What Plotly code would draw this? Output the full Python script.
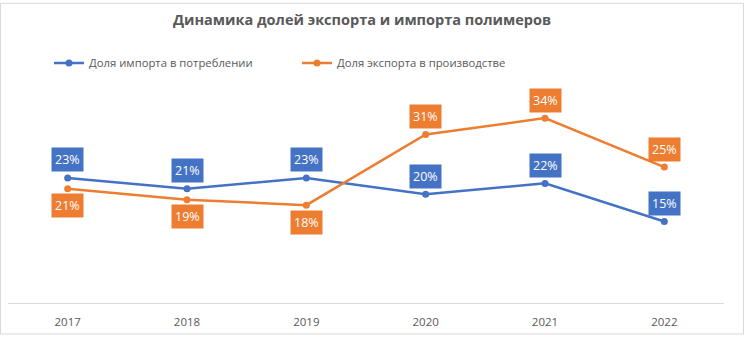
import plotly.graph_objects as go

years = ["2017", "2018", "2019", "2020", "2021", "2022"]
import_share = [23, 21, 23, 20, 22, 15]
export_share = [21, 19, 18, 31, 34, 25]
export_label_pos = ["below", "below", "below", "above", "above", "above"]

BLUE = "#4472C4"
ORANGE = "#ED7D31"
GREY = "#595959"
FONT = "Open Sans"

W, H = 744, 337
ML, MR, MT, MB = 8, 20, 84, 32

fig = go.Figure()
fig.add_trace(go.Scatter(x=years, y=import_share, mode="lines+markers",
                         name="Доля импорта в потреблении",
                         line=dict(color=BLUE, width=2.5),
                         marker=dict(size=7, color=BLUE)))
fig.add_trace(go.Scatter(x=years, y=export_share, mode="lines+markers",
                         name="Доля экспорта в производстве",
                         line=dict(color=ORANGE, width=2.5),
                         marker=dict(size=7, color=ORANGE)))

ann = []
for i, v in enumerate(import_share):
    ann.append(dict(x=i, y=v, xref="x", yref="y", text=f"{v}%", showarrow=False,
                    yshift=18, bgcolor=BLUE, borderpad=3,
                    font=dict(color="white", size=12.5, family=FONT)))
for i, (v, p) in enumerate(zip(export_share, export_label_pos)):
    ann.append(dict(x=i, y=v, xref="x", yref="y", text=f"{v}%", showarrow=False,
                    yshift=18 if p == "above" else -17, bgcolor=ORANGE, borderpad=3,
                    font=dict(color="white", size=12.5, family=FONT)))

pw = W - ML - MR
ph = H - MT - MB
border = dict(type="rect", xref="paper", yref="paper",
              x0=(0.5 - ML) / pw, x1=(W - 0.5 - ML) / pw,
              y0=-(MB - 0.5) / ph, y1=(H - MB - 0.5) / ph,
              line=dict(color="#D9D9D9", width=1), layer="below")

fig.update_layout(
    width=W, height=H,
    margin=dict(l=ML, r=MR, t=MT, b=MB),
    paper_bgcolor="white", plot_bgcolor="white",
    font=dict(family=FONT, color=GREY),
    title=dict(text="<b>Динамика долей экспорта и импорта полимеров</b>",
               x=362 / W, xanchor="center", xref="container",
               y=1 - 20 / H, yanchor="middle", yref="container",
               font=dict(size=14.5, color=GREY, family=FONT)),
    showlegend=True,
    legend=dict(orientation="h", xref="container", yref="container",
                x=49 / W, xanchor="left", y=1 - 63 / H, yanchor="middle",
                font=dict(size=11.3, color=GREY, family=FONT),
                entrywidth=203, entrywidthmode="pixels",
                bgcolor="rgba(0,0,0,0)"),
    xaxis=dict(type="category", range=[-0.5, len(years) - 0.5],
               showgrid=False, showline=True,
               linecolor="#D9D9D9", linewidth=1, ticks="",
               ticklabelstandoff=8,
               tickfont=dict(size=11.5, color=GREY, family=FONT),
               zeroline=False, fixedrange=True),
    yaxis=dict(range=[0, 40], visible=False, showgrid=False, zeroline=False),
    annotations=ann,
    shapes=[border],
)

fig.write_html("out.html")
